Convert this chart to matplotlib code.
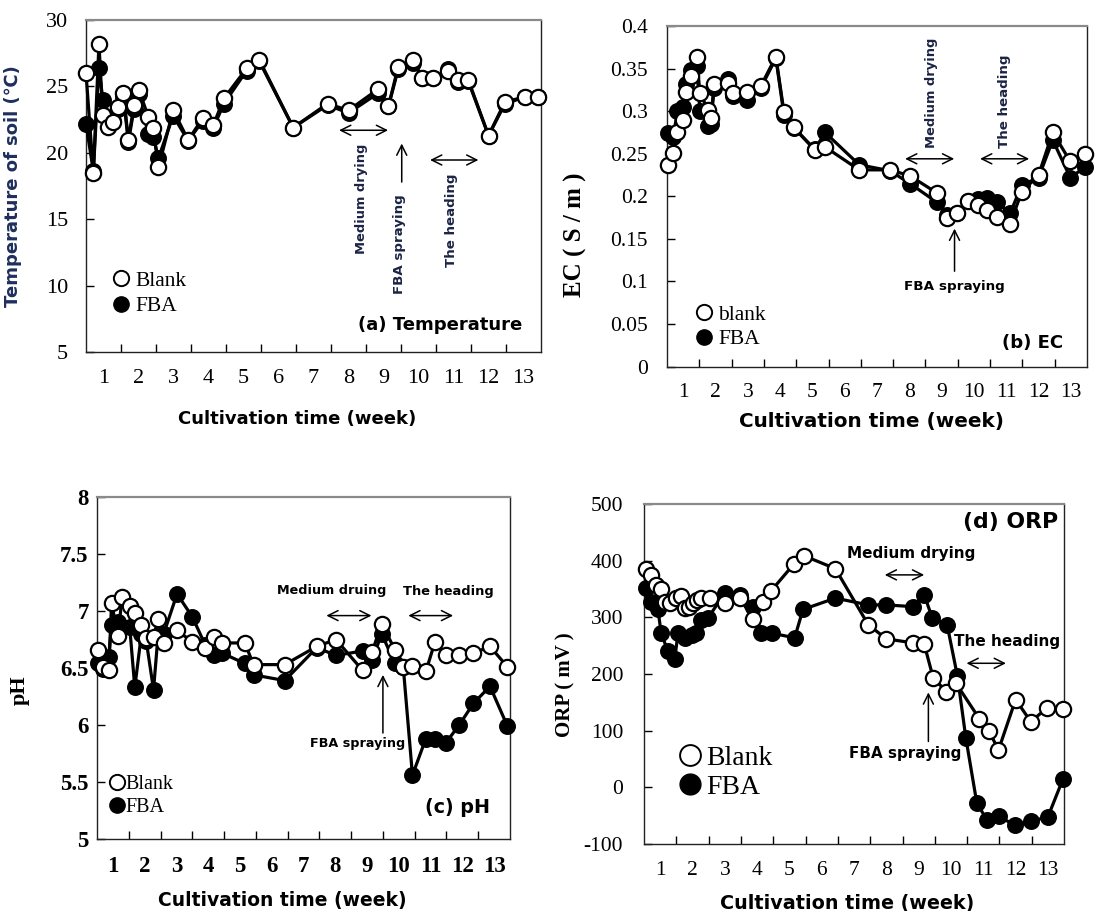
import numpy as np
import matplotlib.pyplot as plt
from matplotlib.lines import Line2D
from matplotlib.ticker import FuncFormatter

plt.rcParams['font.family'] = ['Liberation Serif', 'DejaVu Serif']

# sampling dates (weeks after transplanting) and readings for each plot
weeks_a = [0.0, 0.21, 0.37, 0.48, 0.64, 0.78, 0.92, 1.07, 1.21, 1.37, 1.51, 1.78,
           1.92, 2.07, 2.49, 2.92, 3.33, 3.64, 3.94, 4.59, 4.95, 5.92, 6.9, 7.5,
           8.35, 8.64, 8.92, 9.35, 9.61, 9.92, 10.35, 10.64, 10.92, 11.5, 11.97, 12.54, 12.92]
temp_blank = [26.0, 18.5, 28.2, 22.85, 21.97, 22.34, 23.47, 24.48, 20.96, 23.6, 24.73, 22.72,
              21.84, 18.9, 23.2, 20.96, 22.6, 22.1, 24.1, 26.36, 27.0, 21.9, 23.7, 23.2,
              24.8, 23.5, 26.5, 27.0, 25.6, 25.6, 26.2, 25.5, 25.5, 21.3, 23.85, 24.2, 24.2]
temp_fba = [22.2, 18.6, 26.4, 24.0, 22.6, 22.4, 23.3, 24.2, 20.8, 23.3, 24.4, 21.4,
            21.2, 19.6, 22.8, 20.9, 22.4, 21.9, 23.7, 26.2, 26.9, 21.9, 23.6, 23.0,
            24.5, 23.5, 26.3, 26.8, 25.6, 25.6, 26.3, 25.3, 25.4, 21.3, 23.7, 24.2, 24.2]

weeks_b = [0.04, 0.20, 0.32, 0.49, 0.59, 0.74, 0.92, 1.02, 1.28, 1.36, 1.46, 1.90,
           2.05, 2.47, 2.90, 3.37, 3.62, 3.93, 4.58, 4.89, 5.95, 6.90, 7.52, 8.35,
           8.66, 8.97, 9.33, 9.64, 9.90, 10.21, 10.62, 10.98, 11.50, 11.94, 12.48, 12.94]
ec_blank = [0.237, 0.251, 0.276, 0.290, 0.323, 0.341, 0.363, 0.321, 0.301, 0.292, 0.332, 0.333,
            0.321, 0.323, 0.329, 0.364, 0.299, 0.281, 0.254, 0.258, 0.231, 0.231, 0.224, 0.204,
            0.175, 0.180, 0.194, 0.190, 0.184, 0.176, 0.168, 0.205, 0.225, 0.275, 0.241, 0.250]
ec_fba = [0.274, 0.270, 0.300, 0.305, 0.332, 0.348, 0.353, 0.300, 0.283, 0.285, 0.327, 0.338,
          0.318, 0.313, 0.327, 0.362, 0.296, 0.280, 0.255, 0.275, 0.237, 0.230, 0.215, 0.193,
          0.178, 0.180, 0.195, 0.197, 0.198, 0.193, 0.180, 0.213, 0.222, 0.266, 0.222, 0.234]

weeks_c = [0.03, 0.19, 0.37, 0.46, 0.66, 0.79, 1.03, 1.19, 1.40, 1.55, 1.78, 1.92,
           2.10, 2.52, 3.0, 3.41, 3.67, 3.95, 4.65, 4.93, 5.91, 6.92, 7.52, 8.36,
           8.66, 8.96, 9.38, 9.64, 9.93, 10.35, 10.64, 10.97, 11.4, 11.85, 12.37, 12.92]
ph_blank = [6.66, 6.51, 6.48, 7.07, 6.78, 7.12, 7.04, 6.98, 6.88, 6.76, 6.77, 6.93,
            6.72, 6.83, 6.73, 6.68, 6.77, 6.72, 6.72, 6.53, 6.53, 6.69, 6.75, 6.48,
            6.64, 6.89, 6.66, 6.51, 6.52, 6.47, 6.73, 6.61, 6.61, 6.63, 6.69, 6.51]
ph_fba = [6.54, 6.49, 6.60, 6.88, 6.90, 6.86, 6.86, 6.33, 6.80, 6.74, 6.31, 6.78,
          6.80, 7.15, 6.95, 6.70, 6.61, 6.63, 6.54, 6.44, 6.39, 6.68, 6.61, 6.65,
          6.57, 6.80, 6.54, 6.51, 5.56, 5.88, 5.88, 5.84, 6.0, 6.19, 6.34, 5.99]

weeks_d_blank = [0.07, 0.2, 0.38, 0.51, 0.64, 0.79, 1.0, 1.13, 1.26, 1.39, 1.51, 1.65,
                 1.77, 2.03, 2.5, 2.96, 3.37, 3.68, 3.92, 4.65, 4.94, 5.92, 6.94, 7.5,
                 8.33, 8.67, 8.95, 9.36, 9.65, 10.38, 10.68, 10.97, 11.5, 11.97, 12.47, 12.96]
orp_blank = [385, 375, 358, 350, 328, 325, 334, 338, 316, 319, 325, 330,
             335, 335, 325, 335, 297, 328, 346, 395, 409, 386, 287, 262,
             255, 253, 193, 169, 184, 121, 99, 66, 155, 116, 140, 138]
weeks_d_fba = [0.07, 0.2, 0.43, 0.53, 0.74, 0.95, 1.05, 1.28, 1.48, 1.62, 1.77, 1.98,
               2.5, 2.96, 3.37, 3.63, 3.96, 4.66, 4.92, 5.92, 6.94, 7.5, 8.31, 8.67,
               8.92, 9.38, 9.7, 9.96, 10.3, 10.62, 10.98, 11.48, 11.97, 12.5, 12.96]
orp_fba = [352, 328, 314, 272, 240, 226, 272, 264, 269, 272, 296, 299,
           343, 340, 319, 272, 272, 264, 314, 334, 322, 322, 319, 340,
           299, 287, 196, 87, -28, -58, -51, -67, -60, -52, 14]

week_labels = [str(w) for w in range(1, 14)]

SANS = ['DejaVu Sans', 'Noto Sans CJK JP']
NOTE = '#1c2445'

fig = plt.figure(figsize=(10.97, 9.11), dpi=100)
ax_a = fig.add_axes([0.0784, 0.6136, 0.4148, 0.3644])
ax_b = fig.add_axes([0.6080, 0.5976, 0.3829, 0.3739])
ax_c = fig.add_axes([0.0884, 0.0790, 0.3765, 0.3754])
ax_d = fig.add_axes([0.5871, 0.0735, 0.3829, 0.3732])


def style_axes(ax, ylim, yticks, size=15.5, bold=False, ypad=13, xpad=12):
    ax.set_xlim(0, 13)
    ax.set_ylim(*ylim)
    ax.set_yticks(yticks)
    ax.yaxis.set_major_formatter(FuncFormatter(lambda v, p: f'{v:g}'))
    # week boundaries get ticks, the week numbers sit between them
    ax.set_xticks(range(1, 13))
    ax.set_xticklabels([])
    ax.set_xticks(np.arange(0.5, 13), minor=True)
    ax.set_xticklabels(week_labels, minor=True)
    ax.tick_params(axis='y', direction='in', length=6, width=1, labelsize=size, pad=ypad)
    ax.tick_params(axis='x', which='major', direction='in', length=6, width=1)
    ax.tick_params(axis='x', which='minor', length=0, labelsize=size, pad=xpad)
    if bold:
        for lbl in ax.get_yticklabels() + ax.get_xticklabels(minor=True):
            lbl.set_fontweight('bold')
    for side in ['left', 'bottom', 'right']:
        ax.spines[side].set_color('#222222')
        ax.spines[side].set_linewidth(1.0)
    ax.spines['top'].set_color('#8a8a8a')
    ax.spines['top'].set_linewidth(1.6)


def draw_series(ax, xb, blank, xf, fba):
    ax.plot(xf, fba, '-o', color='black', lw=2.3, ms=11, mfc='black', mec='black',
            mew=1.2, zorder=3, clip_on=False)
    ax.plot(xb, blank, '-o', color='black', lw=2.3, ms=11, mfc='white', mec='black',
            mew=1.6, zorder=4, clip_on=False)


def add_legend(ax, labels, anchor, size, ms, spacing, gap=0.3):
    handles = [Line2D([], [], ls='none', marker='o', ms=ms, mfc='white', mec='black', mew=1.4),
               Line2D([], [], ls='none', marker='o', ms=ms, mfc='black', mec='black')]
    ax.legend(handles, labels, loc='upper left', bbox_to_anchor=anchor, frameon=False,
              fontsize=size, handlelength=0.7, handletextpad=gap, borderpad=0,
              borderaxespad=0, labelspacing=spacing)


def span_arrow(ax, x0, x1, y):
    ax.annotate('', xy=(x0, y), xytext=(x1, y),
                arrowprops=dict(arrowstyle='<->', lw=1.1, color='black',
                                mutation_scale=18, shrinkA=0, shrinkB=0))


def up_arrow(ax, x, y0, y1):
    ax.annotate('', xy=(x, y1), xytext=(x, y0),
                arrowprops=dict(arrowstyle='->', lw=1.1, color='black',
                                mutation_scale=18, shrinkA=0, shrinkB=0))


def note(ax, x, y, s, size, rot=0, color='black'):
    ax.text(x, y, s, rotation=rot, ha='center', va='center', fontsize=size,
            fontweight='bold', family=SANS, color=color)


# (a) soil temperature
style_axes(ax_a, (5, 30), range(5, 31, 5), size=16)
draw_series(ax_a, weeks_a, temp_blank, weeks_a, temp_fba)
add_legend(ax_a, ['Blank', 'FBA'], (0.06, 0.245), 15.5, 11, 0.25, gap=0.35)
ax_a.set_ylabel('Temperature of soil (℃)', family=SANS, fontweight='bold',
                fontsize=13, color='#1f2f5c')
ax_a.yaxis.set_label_coords(-0.141, 0.5)
ax_a.set_xlabel('Cultivation time (week)', family=SANS, fontweight='bold', fontsize=13)
ax_a.xaxis.set_label_coords(0.463, -0.175)
ax_a.text(0.958, 0.081, '(a) Temperature', transform=ax_a.transAxes, ha='right',
          va='center', fontsize=13, fontweight='bold', family=SANS)
span_arrow(ax_a, 7.23, 8.63, 21.7)
note(ax_a, 7.88, 16.5, 'Medium drying', 9.4, rot=90, color=NOTE)
up_arrow(ax_a, 9.02, 17.8, 20.7)
note(ax_a, 8.97, 13.1, 'FBA spraying', 9.6, rot=90, color=NOTE)
span_arrow(ax_a, 9.83, 11.21, 19.46)
note(ax_a, 10.43, 14.94, 'The heading', 9.6, rot=90, color=NOTE)

# (b) electrical conductivity
style_axes(ax_b, (0, 0.4), np.arange(0, 0.401, 0.05), ypad=14)
draw_series(ax_b, weeks_b, ec_blank, weeks_b, ec_fba)
add_legend(ax_b, ['blank', 'FBA'], (0.071, 0.181), 15.5, 11, 0.2, gap=0.3)
ax_b.set_ylabel('EC ( S / m )', fontweight='bold', fontsize=18)
ax_b.yaxis.set_label_coords(-0.19, 0.386)
ax_b.set_xlabel('Cultivation time (week)', family=SANS, fontweight='bold', fontsize=14.4)
ax_b.xaxis.set_label_coords(0.487, -0.133)
ax_b.text(0.944, 0.068, '(b) EC', transform=ax_b.transAxes, ha='right', va='center',
          fontsize=13, fontweight='bold', family=SANS)
span_arrow(ax_b, 7.37, 8.89, 0.244)
note(ax_b, 8.19, 0.321, 'Medium drying', 9.4, rot=90, color=NOTE)
span_arrow(ax_b, 9.69, 11.21, 0.244)
note(ax_b, 10.46, 0.312, 'The heading', 9.6, rot=90, color=NOTE)
up_arrow(ax_b, 8.9, 0.112, 0.162)
note(ax_b, 8.9, 0.094, 'FBA spraying', 9.7)

# (c) pH
style_axes(ax_c, (5, 8), np.arange(5, 8.01, 0.5), size=16.5, bold=True, ypad=6, xpad=12)
draw_series(ax_c, weeks_c, ph_blank, weeks_c, ph_fba)
add_legend(ax_c, ['Blank', 'FBA'], (0.031, 0.187), 14.5, 11, 0.2, gap=0.1)
ax_c.set_ylabel('pH', fontweight='bold', fontsize=16)
ax_c.yaxis.set_label_coords(-0.162, 0.436)
ax_c.set_xlabel('Cultivation time (week)', family=SANS, fontweight='bold', fontsize=13.5)
ax_c.xaxis.set_label_coords(0.449, -0.151)
ax_c.text(0.952, 0.093, '(c) pH', transform=ax_c.transAxes, ha='right', va='center',
          fontsize=13.8, fontweight='bold', family=SANS)
note(ax_c, 7.40, 7.18, 'Medium druing', 9.2)
span_arrow(ax_c, 7.22, 8.64, 6.96)
note(ax_c, 11.06, 7.17, 'The heading', 9.4)
span_arrow(ax_c, 9.8, 11.21, 6.96)
up_arrow(ax_c, 9.0, 5.93, 6.44)
note(ax_c, 8.19, 5.84, 'FBA spraying', 9.2)

# (d) oxidation-reduction potential
style_axes(ax_d, (-100, 500), range(-100, 501, 100), ypad=15)
draw_series(ax_d, weeks_d_blank, orp_blank, weeks_d_fba, orp_fba)
add_legend(ax_d, ['Blank', 'FBA'], (0.086, 0.291), 20, 15, 0.15, gap=0.25)
ax_d.set_ylabel('ORP ( mV )', fontweight='bold', fontsize=15)
ax_d.yaxis.set_label_coords(-0.164, 0.468)
ax_d.set_xlabel('Cultivation time (week)', family=SANS, fontweight='bold', fontsize=13.8)
ax_d.xaxis.set_label_coords(0.483, -0.147)
ax_d.text(0.986, 0.948, '(d) ORP', transform=ax_d.transAxes, ha='right', va='center',
          fontsize=15.8, fontweight='bold', family=SANS)
note(ax_d, 8.28, 413.5, 'Medium drying', 11)
span_arrow(ax_d, 7.45, 8.67, 375)
note(ax_d, 11.22, 257.6, 'The heading', 11)
span_arrow(ax_d, 9.98, 11.2, 219)
up_arrow(ax_d, 8.8, 81, 167.6)
note(ax_d, 8.08, 60.6, 'FBA spraying', 10.9)

fig.savefig('out.png', dpi=100)
